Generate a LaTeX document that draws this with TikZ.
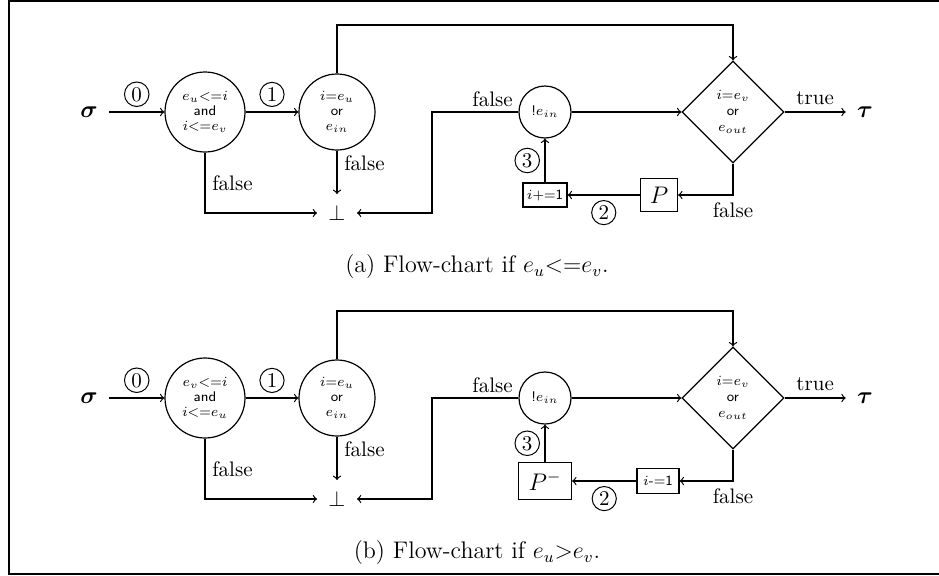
\documentclass[tikz,border=0pt]{standalone}
\usepackage{amsmath,bm}
\usetikzlibrary{shapes.geometric,calc}
\tikzset{
 cnode/.style={circle,draw,line width=0.6pt,inner sep=0pt,align=center,font=\fontsize{7}{7.6}\selectfont\sffamily},
 dnode/.style={diamond,draw,line width=0.6pt,inner sep=0pt,minimum width=51pt,minimum height=51pt,align=center,font=\fontsize{7}{8}\selectfont\sffamily},
 bnode/.style={rectangle,draw,line width=0.6pt,inner sep=0pt},
 num/.style={circle,draw,inner sep=1.2pt,line width=0.5pt,font=\fontsize{10.5}{12}\selectfont},
 lbl/.style={font=\fontsize{10.5}{12.6}\selectfont},
 endpt/.style={inner sep=5.5pt,font=\fontsize{12}{14}\selectfont},
 capt/.style={font=\fontsize{12}{14}\selectfont},
 flow/.style={->,line width=0.6pt},
 frame/.style={line width=1.3pt},
}
\begin{document}
\begin{tikzpicture}[x=0.5pt,y=-0.5pt,>=to]
\useasboundingbox (0,0) rectangle (939,575);
\draw[frame] (9,0) -- (9,575);
\draw[frame] (8,1) -- (939,1);
\draw[frame] (8,574) -- (939,574);

% ---------- (a)
\node[endpt] (aS) at (89,112) {$\bm{\sigma}$};
\node[cnode,minimum size=40pt] (aC1) at (205,112) {$e_u$<=$i$\\and\\$i$<=$e_v$};
\node[cnode,minimum size=38pt] (aC2) at (337,112) {$i$=$e_u$\\or\\$e_{in}$};
\node[lbl,inner sep=5.5pt] (aB) at (337,213) {$\bot$};
\node[cnode,minimum size=26pt] (aC3) at (545,112) {!$e_{in}$};
\node[dnode] (aD) at (733,112) {$i$=$e_v$\\or\\$e_{out}$};
\node[bnode,minimum width=18.5pt,minimum height=16.5pt,font=\fontsize{12}{14}\selectfont] (aP) at (659,195) {$P$};
\node[bnode,minimum width=22pt,minimum height=12pt,font=\fontsize{7}{8}\selectfont\sffamily] (aI) at (545,195) {$i$+=1};
\node[endpt] (aT) at (865,112) {$\bm{\tau}$};
\coordinate (aTop) at (733,25);
\coordinate (aK) at (432,213);

\draw[flow] (aS) -- node[num,above=2.5pt]{0} (aC1);
\draw[flow] (aC1) -- node[num,above=2.5pt]{1} (aC2);
\draw[flow] (aC1.south) |- node[lbl,pos=0.25,right]{false} (aB.west);
\draw[flow] (aC2.south) -- node[lbl,pos=0.3,right]{false} (aB.north);
\draw[flow] (aC2.north) |- (aTop) -- (aD.north);
\draw[flow] (aC3.west) -- node[lbl,at start,anchor=south east,inner sep=2.5pt]{false} (aC3.west -| aK) -- (aK) -- (aB.east);
\draw[flow] (aC3) -- (aD);
\draw[flow] (aD.south) |- node[lbl,pos=0.5,below]{false} (aP.east);
\draw[flow] (aP) -- node[num,below=2.5pt]{2} (aI);
\draw[flow] (aI) -- node[num,left=2.5pt]{3} (aC3);
\draw[flow] (aD) -- node[lbl,above]{true} (aT);

\node[capt] (capA) at (477,267) {(a) Flow-chart if $e_u$<=$e_v$.};

% ---------- (b)
\node[endpt] (bS) at (89,398) {$\bm{\sigma}$};
\node[cnode,minimum size=40pt] (bC1) at (205,398) {$e_v$<=$i$\\and\\$i$<=$e_u$};
\node[cnode,minimum size=38pt] (bC2) at (337,398) {$i$=$e_u$\\or\\$e_{in}$};
\node[lbl,inner sep=5.5pt] (bB) at (337,499) {$\bot$};
\node[cnode,minimum size=26pt] (bC3) at (545,398) {!$e_{in}$};
\node[dnode] (bD) at (733,398) {$i$=$e_v$\\or\\$e_{out}$};
\node[bnode,minimum width=21pt,minimum height=12.5pt,font=\fontsize{7}{8}\selectfont\sffamily] (bI) at (658,481) {$i$-=1};
\node[bnode,minimum width=26.5pt,minimum height=18.5pt,font=\fontsize{12}{14}\selectfont] (bP) at (545,481) {$P^-$};
\node[endpt] (bT) at (865,398) {$\bm{\tau}$};
\coordinate (bTop) at (733,311);
\coordinate (bK) at (432,499);

\draw[flow] (bS) -- node[num,above=2.5pt]{0} (bC1);
\draw[flow] (bC1) -- node[num,above=2.5pt]{1} (bC2);
\draw[flow] (bC1.south) |- node[lbl,pos=0.25,right]{false} (bB.west);
\draw[flow] (bC2.south) -- node[lbl,pos=0.3,right]{false} (bB.north);
\draw[flow] (bC2.north) |- (bTop) -- (bD.north);
\draw[flow] (bC3.west) -- node[lbl,at start,anchor=south east,inner sep=2.5pt]{false} (bC3.west -| bK) -- (bK) -- (bB.east);
\draw[flow] (bC3) -- (bD);
\draw[flow] (bD.south) |- node[lbl,pos=0.5,below]{false} (bI.east);
\draw[flow] (bI) -- node[num,below=2.5pt]{2} (bP);
\draw[flow] (bP) -- node[num,left=2.5pt]{3} (bC3);
\draw[flow] (bD) -- node[lbl,above]{true} (bT);

\node[capt] (capB) at (477,553) {(b) Flow-chart if $e_u$>$e_v$.};
\end{tikzpicture}
\end{document}
